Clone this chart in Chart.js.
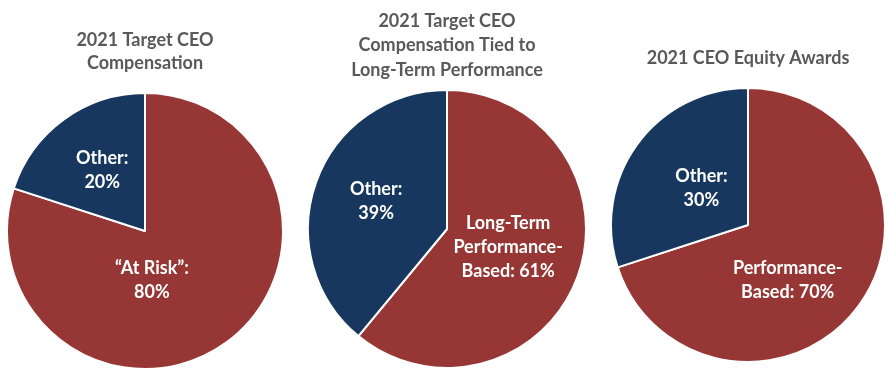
<!DOCTYPE html>
<html>
<head>
<meta charset="utf-8">
<script src="https://cdn.jsdelivr.net/npm/chart.js@4.4.0/dist/chart.umd.min.js"></script>
<style>
  body { margin: 0; background: #fff; }
  #wrap { position: relative; width: 895px; height: 375px; overflow: hidden; }
  .pie { position: absolute; top: 0; }
</style>
</head>
<body>
<div id="wrap">
  <div class="pie" id="box1"><canvas id="pie1"></canvas></div>
  <div class="pie" id="box2"><canvas id="pie2"></canvas></div>
  <div class="pie" id="box3"><canvas id="pie3"></canvas></div>
</div>
<script>
// data
var titles1 = ['2021 Target CEO', 'Compensation'];
var labels1 = [['\u201CAt Risk\u201D:', '80%'], ['Other:', '20%']];
var values1 = [80, 20];

var titles2 = ['2021 Target CEO', 'Compensation Tied to', 'Long-Term Performance'];
var labels2 = [['Long-Term', 'Performance-', 'Based: 61%'], ['Other:', '39%']];
var values2 = [61, 39];

var titles3 = ['2021 CEO Equity Awards'];
var labels3 = [['Performance-', 'Based: 70%'], ['Other:', '30%']];
var values3 = [70, 30];

var RED = '#963735';
var NAVY = '#17375E';
var FONT = 'Lato, "Open Sans", sans-serif';

// layout: pie centre x/y, radius, title line y's, label offsets (fractions of radius)
var pies = [
  { box: 'box1', id: 'pie1', cx: 145, cy: 231, r: 137, titles: titles1, titleY: [40, 63],
    labels: labels1, values: values1, offs: [[0.05, 0.36], [-0.31, -0.44]] },
  { box: 'box2', id: 'pie2', cx: 447, cy: 229, r: 138, titles: titles2, titleY: [21, 45, 70],
    labels: labels2, values: values2, offs: [[0.44, 0.13], [-0.51, -0.20]] },
  { box: 'box3', id: 'pie3', cx: 748, cy: 225, r: 136, titles: titles3, titleY: [58],
    labels: labels3, values: values3, offs: [[0.29, 0.40], [-0.34, -0.27]] }
];

var textPlugin = {
  id: 'pieText',
  afterDraw: function (chart) {
    var cfg = chart.options.plugins.pieText;
    var ctx = chart.ctx;
    var arcs = chart.getDatasetMeta(0).data;
    var cx = arcs[0].x, cy = arcs[0].y, r = arcs[0].outerRadius;
    ctx.save();
    ctx.textAlign = 'center';
    ctx.textBaseline = 'middle';
    ctx.font = 'bold 18px ' + FONT;
    ctx.fillStyle = '#595959';
    cfg.titles.forEach(function (t, i) {
      ctx.fillText(t, cx, cfg.titleY[i]);
    });
    ctx.fillStyle = '#ffffff';
    var lh = 24;
    cfg.labels.forEach(function (lines, i) {
      var x = cx + cfg.offs[i][0] * r;
      var y = cy + cfg.offs[i][1] * r - (lines.length - 1) * lh / 2;
      lines.forEach(function (line, j) {
        ctx.fillText(line, x, y + j * lh);
      });
    });
    ctx.restore();
  }
};

pies.forEach(function (p) {
  var w = 2 * (p.r + 2);
  var h = p.cy + p.r + 2;
  var box = document.getElementById(p.box);
  box.style.left = (p.cx - w / 2) + 'px';
  box.style.width = w + 'px';
  box.style.height = h + 'px';
  new Chart(document.getElementById(p.id), {
    type: 'pie',
    data: {
      labels: p.labels.map(function (l) { return l.join(' '); }),
      datasets: [{
        data: p.values,
        backgroundColor: [RED, NAVY],
        borderColor: '#ffffff',
        borderWidth: 2
      }]
    },
    options: {
      responsive: true,
      maintainAspectRatio: false,
      animation: false,
      layout: { padding: { top: h - w } },
      plugins: {
        legend: { display: false },
        tooltip: { enabled: false },
        pieText: { titles: p.titles, titleY: p.titleY, labels: p.labels, offs: p.offs }
      }
    },
    plugins: [textPlugin]
  });
});
</script>
</body>
</html>
